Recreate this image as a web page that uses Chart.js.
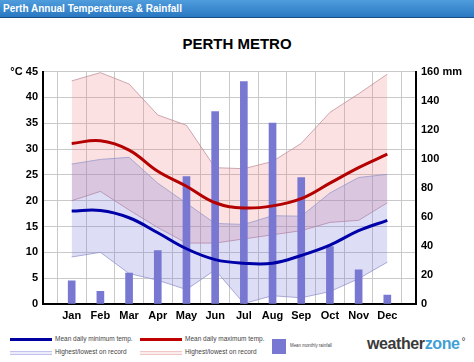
<!DOCTYPE html>
<html>
<head>
<meta charset="utf-8">
<script src="https://cdn.jsdelivr.net/npm/chart.js@4.4.1/dist/chart.umd.min.js"></script>
<style>
  body { margin:0; width:474px; height:362px; overflow:hidden; background:#fff; position:relative; font-family:"Liberation Sans", Arial, sans-serif; }
  #topbar { position:absolute; left:0; top:0; width:474px; height:17px; background:linear-gradient(#4f9ddc,#2a78c2); border-bottom:1px solid #1b4e86; }
  #topbar span { position:absolute; left:3px; top:3px; color:#fff; font:bold 10px "Liberation Sans", Arial, sans-serif; white-space:nowrap; }
  #title { position:absolute; left:0; width:474px; top:35px; text-align:center; font:bold 15px "Liberation Sans", Arial, sans-serif; color:#000; }
  #chart { position:absolute; left:0; top:60px; }
  .ln { position:absolute; width:42px; }
  .txt { position:absolute; font-size:6.5px; color:#444; white-space:nowrap; }
  #logo { position:absolute; left:367px; top:335px; font:bold 16px "Liberation Sans", Arial, sans-serif; color:#3a3a3a; white-space:nowrap; letter-spacing:-0.4px; }
  #logo b { color:#3f9fd6; }
  #logo sup { font-size:10px; font-weight:normal; color:#3a3a3a; vertical-align:4px; margin-left:2px; }
</style>
</head>
<body>
<div id="topbar"><span>Perth Annual Temperatures &amp; Rainfall</span></div>
<div id="title">PERTH METRO</div>
<canvas id="chart" width="474" height="265"></canvas>

<div class="ln" style="left:10px;top:338px;height:3px;background:#0000a0"></div>
<div class="txt" style="left:55px;top:335px">Mean daily minimum temp.</div>
<div class="ln" style="left:10px;top:351px;height:2px;border-top:1px solid #c2c2ee;border-bottom:1px solid #c2c2ee;background:#ececfb"></div>
<div class="txt" style="left:55px;top:348px">Highest/lowest on record</div>

<div class="ln" style="left:140px;top:338px;height:3px;background:#c00000"></div>
<div class="txt" style="left:185px;top:335px">Mean daily maximum temp.</div>
<div class="ln" style="left:140px;top:351px;height:2px;border-top:1px solid #f0c6c6;border-bottom:1px solid #f0c6c6;background:#fcecec"></div>
<div class="txt" style="left:185px;top:348px">Highest/lowest on record</div>

<div style="position:absolute;left:272px;top:339px;width:14px;height:15px;background:#7878d2"></div>
<div class="txt" style="left:290px;top:342px;font-size:5.5px;transform:scaleX(0.8);transform-origin:left center">Mean monthly rainfall</div>

<div id="logo">weather<b>zone</b><sup>°</sup></div>

<script>
const months = ['Jan','Feb','Mar','Apr','May','Jun','Jul','Aug','Sep','Oct','Nov','Dec'];
const meanMax = [31.1, 31.6, 29.8, 25.7, 22.8, 19.6, 18.6, 19.0, 20.4, 23.4, 26.4, 29.0];
const meanMin = [18.0, 18.1, 16.7, 13.8, 10.7, 8.6, 7.9, 7.9, 9.4, 11.4, 14.2, 16.2];
const recHighMax = [43.2, 44.8, 42.6, 36.6, 34.6, 26.4, 26.2, 27.6, 31.1, 37.1, 40.7, 44.5];
const recLowMax = [20.0, 21.8, 18.2, 14.8, 11.8, 11.8, 12.6, 13.4, 14.2, 15.8, 16.2, 19.6];
const recHighMin = [27.1, 28.0, 28.4, 23.4, 19.5, 15.6, 15.4, 17.1, 17.0, 21.5, 24.5, 25.1];
const recLowMin = [9.1, 10.0, 5.9, 4.6, 2.8, 6.6, 0.1, 1.6, 1.2, 2.4, 4.9, 8.1];
const rainfall = [15.9, 8.8, 21.3, 36.8, 87.8, 132.5, 153.2, 124.6, 87.1, 39.5, 23.6, 6.1];

// months sit on x = 1..12, axis runs 0..13
const pts = arr => arr.map((v, i) => ({ x: i + 1, y: v }));

const tickFont = { family: '"Liberation Sans", Arial, sans-serif', size: 11, weight: 'bold' };
const gridCol = '#c9c9c9';

new Chart(document.getElementById('chart'), {
  type: 'line',
  data: {
    datasets: [
      { data: pts(meanMax), borderColor: '#b40000', borderWidth: 3, tension: 0.4, pointRadius: 0, fill: false, order: 0 },
      { data: pts(meanMin), borderColor: '#0000a8', borderWidth: 3, tension: 0.4, pointRadius: 0, fill: false, order: 0 },
      { type: 'bar', data: pts(rainfall), yAxisID: 'y2', backgroundColor: '#7878d2', barThickness: 7, order: 1 },
      { data: pts(recHighMax), borderColor: 'rgba(190,140,155,0.75)', borderWidth: 1, pointRadius: 0, tension: 0,
        fill: '+1', backgroundColor: 'rgba(235,120,120,0.22)', order: 3 },
      { data: pts(recLowMax), borderColor: 'rgba(190,140,155,0.75)', borderWidth: 1, pointRadius: 0, tension: 0, fill: false, order: 3 },
      { data: pts(recHighMin), borderColor: 'rgba(150,150,200,0.75)', borderWidth: 1, pointRadius: 0, tension: 0,
        fill: '+1', backgroundColor: 'rgba(120,120,220,0.25)', order: 2 },
      { data: pts(recLowMin), borderColor: 'rgba(150,150,200,0.75)', borderWidth: 1, pointRadius: 0, tension: 0, fill: false, order: 2 }
    ]
  },
  options: {
    responsive: false,
    animation: false,
    devicePixelRatio: 1,
    layout: { padding: { top: 9, left: 0, right: 0, bottom: 0 } },
    plugins: { legend: { display: false }, tooltip: { enabled: false } },
    scales: {
      x: {
        type: 'linear', min: 0, max: 13, offset: false,
        afterFit: s => { s.height = 21; },
        grid: { color: gridCol, drawTicks: false },
        border: { color: '#000', width: 2 },
        ticks: { stepSize: 1, padding: 5, color: '#000', font: tickFont, maxRotation: 0,
                 callback: v => months[v - 1] || '' }
      },
      y: {
        position: 'left', min: 0, max: 45,
        afterFit: s => { s.width = 43; },
        grid: { color: gridCol, drawTicks: false },
        border: { color: '#000', width: 2 },
        ticks: { stepSize: 5, padding: 5, color: '#000', font: tickFont,
                 callback: v => v === 45 ? '°C 45' : v }
      },
      y2: {
        position: 'right', min: 0, max: 160,
        afterFit: s => { s.width = 58; },
        grid: { drawOnChartArea: false, drawTicks: false },
        border: { color: '#000', width: 2 },
        ticks: { stepSize: 20, padding: 5, color: '#000', font: tickFont,
                 callback: v => v === 160 ? '160 mm' : v }
      }
    }
  }
});
</script>
</body>
</html>
